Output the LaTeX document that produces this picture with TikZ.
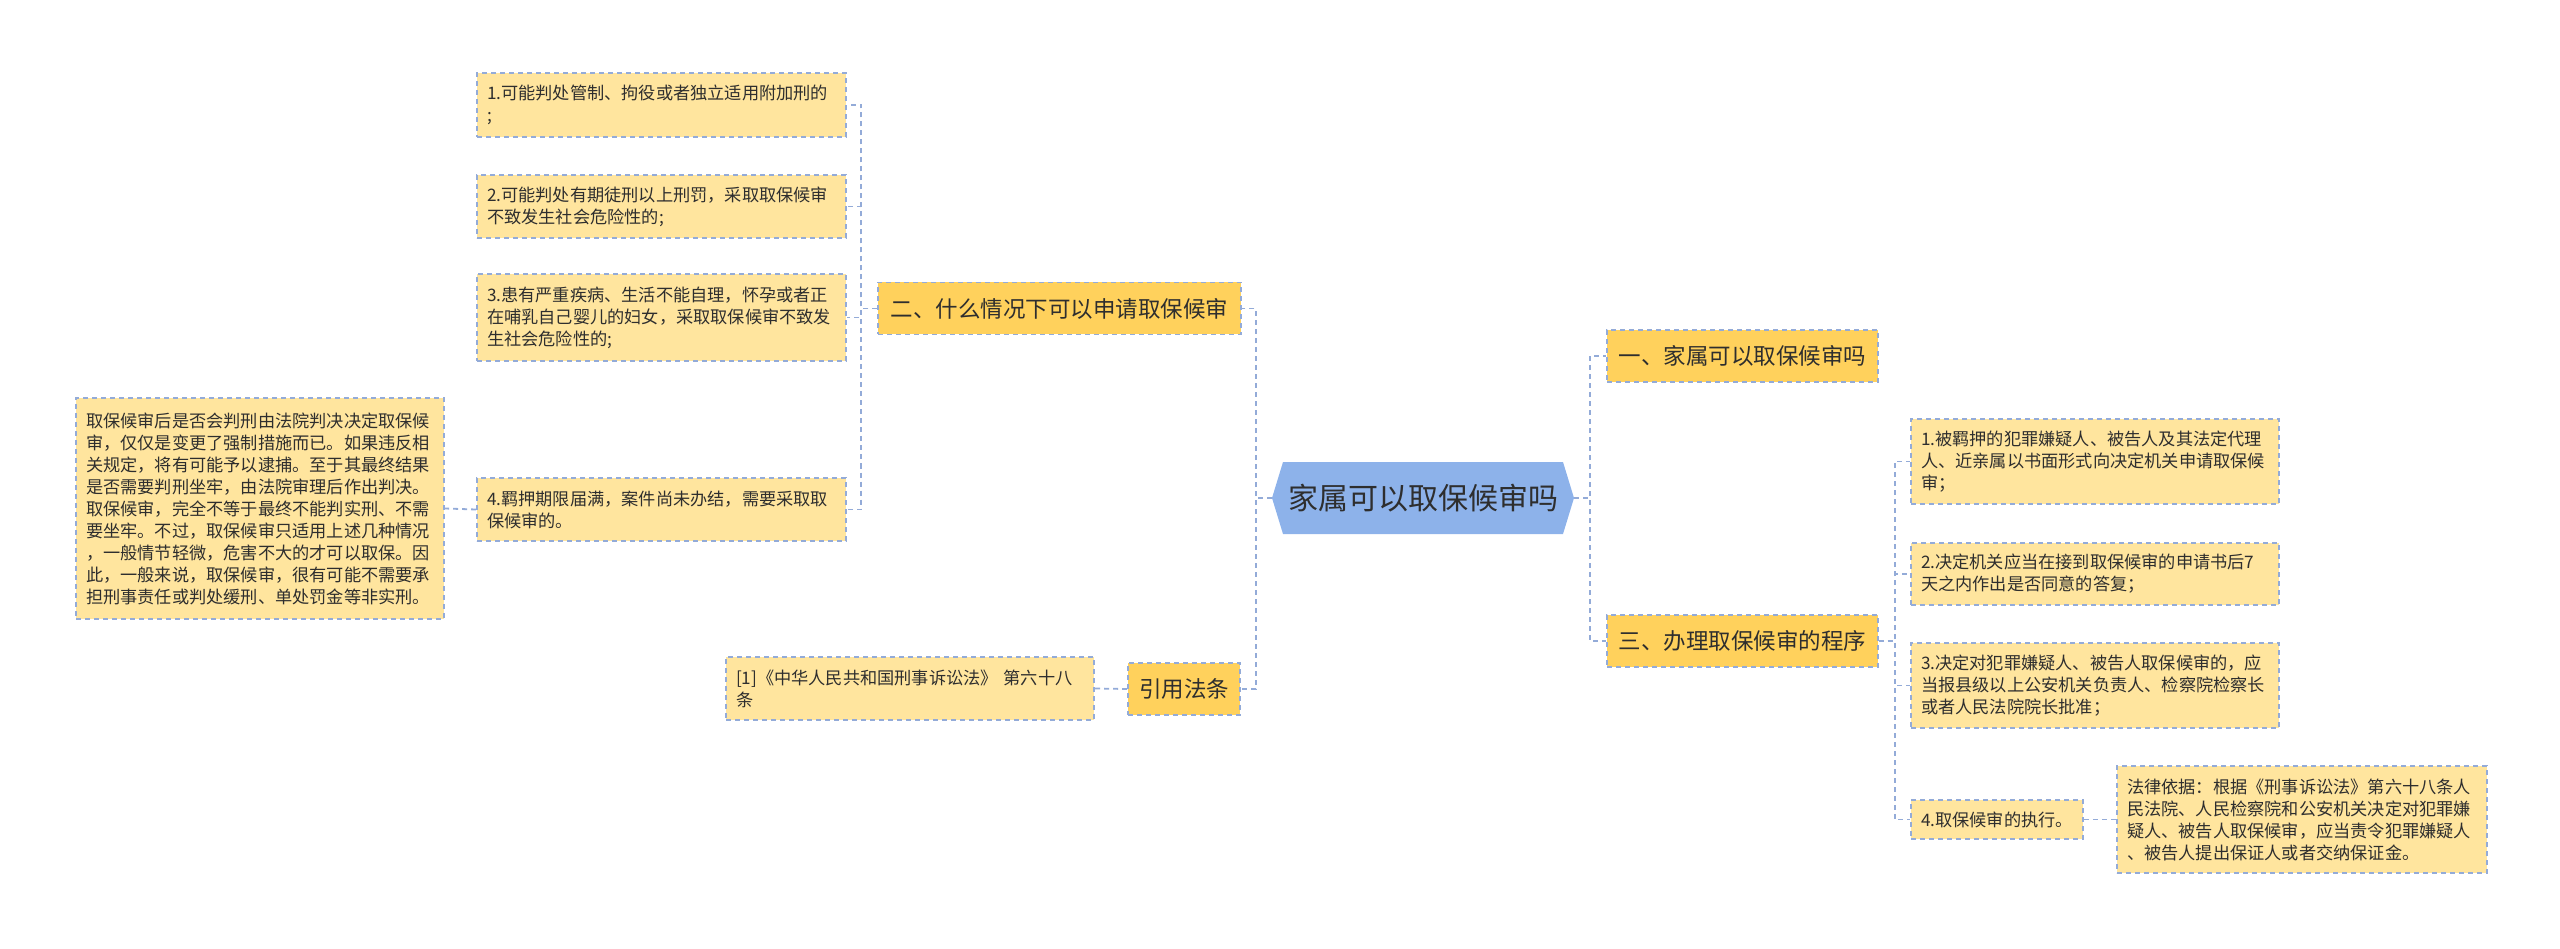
\documentclass[tikz,border=0pt]{standalone}
\usepackage{fontspec}
\usepackage{tikz}
\usetikzlibrary{shapes.symbols, positioning}
\newfontfamily\cjk{Noto Sans CJK SC}

\definecolor{leafyellow}{HTML}{FFE59E}
\definecolor{branchgold}{HTML}{FFD15C}
\definecolor{rootblue}{HTML}{8DB2EA}
\definecolor{linkblue}{HTML}{93ABD8}
\definecolor{textgray}{HTML}{2E2E2E}

\begin{document}
\begin{tikzpicture}[
    x=1pt, y=-1pt,
    link/.style={draw=linkblue, line width=1.8pt, dash pattern=on 5pt off 4pt},
    leaf/.style={link, fill=leafyellow, text=textgray, align=left,
        font=\cjk\fontsize{17.2}{22}\selectfont, text width=349pt,
        inner xsep=10pt, inner ysep=4pt, minimum width=369pt},
    branch/.style={link, fill=branchgold, text=textgray,
        font=\cjk\fontsize{22.5}{27}\selectfont, inner sep=4pt, minimum height=52pt},
    root/.style={signal, signal to=west and east, signal pointer angle=146,
        fill=rootblue, text=textgray, font=\cjk\fontsize{30}{36}\selectfont,
        minimum width=302pt, minimum height=72pt, inner sep=2pt}
]
    \useasboundingbox (0,0) rectangle (2560,949);

    % centre
    \node[root] (root) at (1423,498) {家属可以取保候审吗};

    % left side
    \node[branch, minimum width=363pt] (b2)   at (1059.5,308.5) {二、什么情况下可以申请取保候审};
    \node[branch, minimum width=112pt] (cite) at (1184,689)     {引用法条};

    \node[leaf, minimum height=64pt] (l1) at (661.5,105)   {1.可能判处管制、拘役或者独立适用附加刑的\\;};
    \node[leaf, minimum height=63pt] (l2) at (661.5,206.5) {2.可能判处有期徒刑以上刑罚，采取取保候审\\不致发生社会危险性的;};
    \node[leaf, minimum height=87pt] (l3) at (661.5,317.5) {3.患有严重疾病、生活不能自理，怀孕或者正\\在哺乳自己婴儿的妇女，采取取保候审不致发\\生社会危险性的;};
    \node[leaf, minimum height=63pt] (l4) at (661.5,509.5) {4.羁押期限届满，案件尚未办结，需要采取取\\保候审的。};

    \node[leaf, minimum height=221pt, minimum width=368pt, text width=348pt] (l4note) at (260,508.5)
        {取保候审后是否会判刑由法院判决决定取保候\\审，仅仅是变更了强制措施而已。如果违反相\\关规定，将有可能予以逮捕。至于其最终结果\\是否需要判刑坐牢，由法院审理后作出判决。\\取保候审，完全不等于最终不能判实刑、不需\\要坐牢。不过，取保候审只适用上述几种情况\\，一般情节轻微，危害不大的才可以取保。因\\此，一般来说，取保候审，很有可能不需要承\\担刑事责任或判处缓刑、单处罚金等非实刑。};

    \node[leaf, minimum height=63pt, minimum width=368pt, text width=348pt] (ref) at (910,688.5)
        {[1]《中华人民共和国刑事诉讼法》 第六十八\\条};

    % right side
    \node[branch, minimum width=271pt] (b1) at (1742.5,356) {一、家属可以取保候审吗};
    \node[branch, minimum width=271pt] (b3) at (1742.5,641) {三、办理取保候审的程序};

    \node[leaf, minimum height=85pt, minimum width=368pt, text width=348pt] (r1) at (2095,461.5)
        {1.被羁押的犯罪嫌疑人、被告人及其法定代理\\人、近亲属以书面形式向决定机关申请取保候\\审；};
    \node[leaf, minimum height=62pt, minimum width=368pt, text width=348pt] (r2) at (2095,574)
        {2.决定机关应当在接到取保候审的申请书后7\\天之内作出是否同意的答复；};
    \node[leaf, minimum height=85pt, minimum width=368pt, text width=348pt] (r3) at (2095,685.5)
        {3.决定对犯罪嫌疑人、被告人取保候审的，应\\当报县级以上公安机关负责人、检察院检察长\\或者人民法院院长批准；};
    \node[leaf, minimum height=39pt, minimum width=172pt, text width=152pt] (r4) at (1997,819.5)
        {4.取保候审的执行。};
    \node[leaf, minimum height=107pt, minimum width=370pt, text width=350pt] (r4note) at (2302,819.5)
        {法律依据：根据《刑事诉讼法》第六十八条人\\民法院、人民检察院和公安机关决定对犯罪嫌\\疑人、被告人取保候审，应当责令犯罪嫌疑人\\、被告人提出保证人或者交纳保证金。};

    % connectors
    \draw[link] (root.west) -- ++(-16,0) |- (b2.east);
    \draw[link] (root.west) -- ++(-16,0) |- (cite.east);
    \draw[link] (root.east) -- ++(16,0) |- (b1.west);
    \draw[link] (root.east) -- ++(16,0) |- (b3.west);

    \foreach \leafname in {l1, l2, l3, l4}
        \draw[link] (b2.west) -- ++(-16,0) |- (\leafname.east);
    \draw[link] (l4.west) -- (l4note.east);
    \draw[link] (cite.west) -- (ref.east);

    \foreach \leafname in {r1, r2, r3, r4}
        \draw[link] (b3.east) -- ++(16,0) |- (\leafname.west);
    \draw[link] (r4.east) -- (r4note.west);
\end{tikzpicture}
\end{document}
